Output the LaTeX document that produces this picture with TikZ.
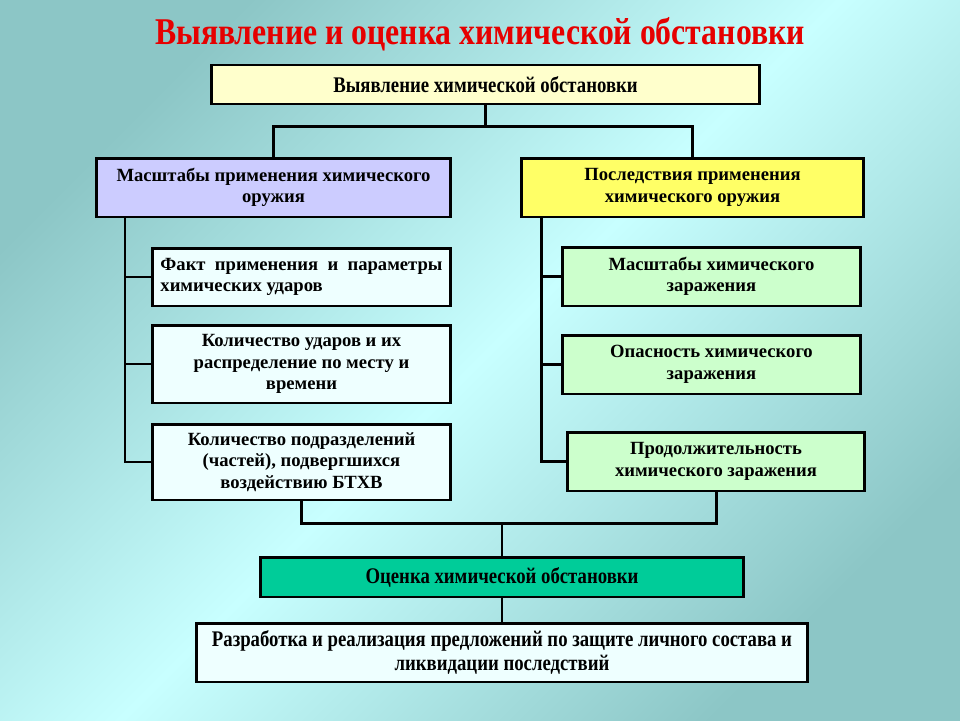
\documentclass[tikz,border=0pt]{standalone}
\usepackage{fontspec}
\setmainfont{Liberation Serif}
\newfontfamily\narrowfont{Liberation Serif}[FakeStretch=0.84]
\usepackage{tikz}

\definecolor{bgdark}{RGB}{140,198,198}
\definecolor{bglight}{RGB}{200,255,255}
\definecolor{titlered}{RGB}{230,0,0}
\definecolor{lightyellow}{RGB}{255,255,204}
\definecolor{lavender}{RGB}{204,204,255}
\definecolor{brightyellow}{RGB}{255,255,102}
\definecolor{palecyan}{RGB}{238,255,255}
\definecolor{palegreen}{RGB}{204,255,204}
\definecolor{seagreen}{RGB}{0,204,153}

\tikzset{
  box/.style={draw, line width=1.7pt, align=center, inner sep=0pt,
    font=\fontsize{10.6}{12.2}\selectfont\bfseries},
  narrowbox/.style={box, font=\narrowfont\fontsize{12.7}{13.2}\selectfont\bfseries},
  link/.style={line width=1.7pt}
}

\begin{document}
\begin{tikzpicture}[x=0.02cm, y=-0.02cm]
\useasboundingbox (0,0) rectangle (960,720);
\shade[top color=bgdark, bottom color=bgdark, middle color=bglight, shading angle=45] (0,0) rectangle (960,720);
\node (title) at (480,34) [text=titlered, font=\narrowfont\fontsize{21.5}{23}\selectfont\bfseries] {Выявление и оценка химической обстановки};
\node (top) at (485.5,84.5) [narrowbox, fill=lightyellow, minimum width=10.98cm, minimum height=0.78cm] {Выявление химической обстановки};
\node (scale) at (273.5,187.5) [box, fill=lavender, minimum width=7.1cm, minimum height=1.18cm] {Масштабы применения химического\\оружия};
\node (conseq) at (692.5,187.5) [box, fill=brightyellow, minimum width=6.86cm, minimum height=1.18cm] {Последствия применения\\химического оружия};
\node (fact) at (301.5,277) [box, fill=palecyan, minimum width=5.98cm, minimum height=1.16cm, align=left] {Факт\ \ применения\ \ и\ \ параметры\\химических ударов};
\node (strikes) at (301.5,364) [box, fill=palecyan, minimum width=5.98cm, minimum height=1.56cm] {Количество ударов и их\\распределение по месту и\\времени};
\node (units) at (301.5,462) [box, fill=palecyan, minimum width=5.98cm, minimum height=1.52cm] {Количество подразделений\\(частей), подвергшихся\\воздействию БТХВ};
\node (area) at (711.5,276.5) [box, fill=palegreen, minimum width=5.98cm, minimum height=1.18cm] {Масштабы химического\\заражения};
\node (danger) at (711.5,364.5) [box, fill=palegreen, minimum width=5.98cm, minimum height=1.18cm] {Опасность химического\\заражения};
\node (duration) at (716,461.5) [box, fill=palegreen, minimum width=5.96cm, minimum height=1.18cm] {Продолжительность\\химического заражения};
\node (assess) at (502,577) [narrowbox, fill=seagreen, minimum width=9.66cm, minimum height=0.8cm] {Оценка химической обстановки};
\node (measures) at (502,652.5) [narrowbox, fill=palecyan, minimum width=12.24cm, minimum height=1.18cm] {Разработка и реализация предложений по защите личного состава и\\ликвидации последствий};

\coordinate (lspine) at (125,217);
\coordinate (rspine) at (541,217);
\draw [link] (top.south) -- ++(0,21) coordinate (split);
\draw [link] (scale.north) |- (split) -| (conseq.north);
\draw [link] (lspine) |- (units.west);
\draw [link] (lspine |- fact.west) -- (fact.west);
\draw [link] (lspine |- strikes.west) -- (strikes.west);
\draw [link] (rspine) |- (duration.west);
\draw [link] (rspine |- area.west) -- (area.west);
\draw [link] (rspine |- danger.west) -- (danger.west);
\draw [link] (assess.north) -- ++(0,-32) coordinate (join);
\draw [link] (units.south) |- (join) -| (duration.south);
\draw [link] (assess.south) -- (measures.north);
\end{tikzpicture}
\end{document}
